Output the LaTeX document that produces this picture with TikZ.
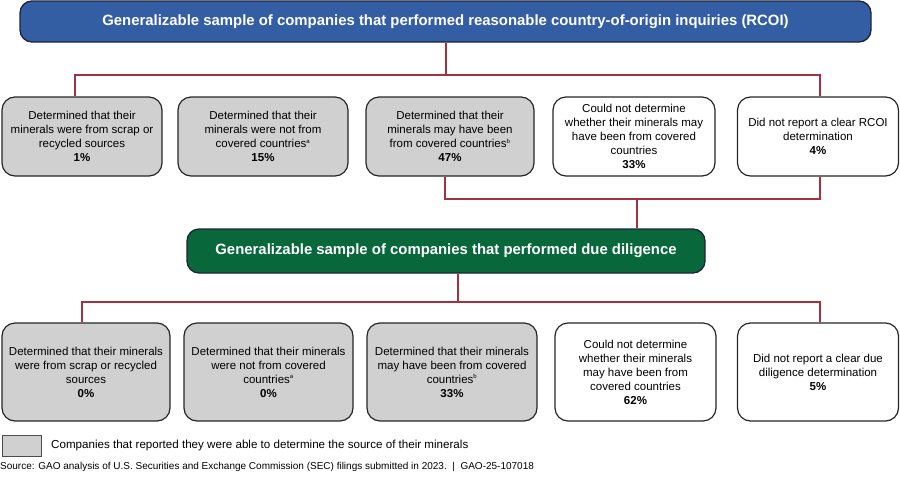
\documentclass[tikz,border=0pt]{standalone}
\usepackage{fontspec}
\setmainfont{Liberation Sans}
\definecolor{gaoblue}{RGB}{52,94,164}
\definecolor{gaogreen}{RGB}{8,104,60}
\definecolor{gaored}{RGB}{164,50,62}
\definecolor{boxgray}{RGB}{208,208,208}
\definecolor{navy}{RGB}{30,36,56}
\tikzset{
  banner/.style={draw=navy, line width=1.3pt, rounded corners=12pt, text=white,
    font=\fontsize{14.9}{17}\selectfont\bfseries, inner sep=0pt},
  resbox/.style={draw=black!85, line width=1.2pt, rounded corners=13pt, align=center,
    font=\fontsize{11.5}{14}\selectfont, inner sep=0pt, minimum height=79pt},
  resbox2/.style={resbox, minimum height=98pt},
  graybox/.style={fill=boxgray},
  link/.style={draw=gaored, line width=2.6pt},
}
\newcommand{\pct}[1]{\textbf{#1}}
\newcommand{\fnm}[1]{\textsuperscript{\fontsize{6}{6}\selectfont #1}}
\begin{document}
\begin{tikzpicture}[x=1pt,y=-1pt]
\useasboundingbox (0,0) rectangle (900,480);

% top banner
\node[banner, fill=gaoblue, minimum width=851pt, minimum height=41pt] (top) at (445.5,21.5)
  {Generalizable sample of companies that performed reasonable country-of-origin inquiries (RCOI)};

% row 1
\node[resbox, graybox, minimum width=160pt] (b1) at (82,136.5)
  {Determined that their\\minerals were from scrap or\\recycled sources\\\pct{1\%}};
\node[resbox, graybox, minimum width=170pt] (b2) at (263,136.5)
  {Determined that their\\minerals were not from\\covered countries\fnm{a}\\\pct{15\%}};
\node[resbox, graybox, minimum width=168pt] (b3) at (450,136.5)
  {Determined that their\\minerals may have been\\from covered countries\fnm{b}\\\pct{47\%}};
\node[resbox, fill=white, minimum width=162pt] (b4) at (634,136.5)
  {Could not determine\\whether their minerals may\\have been from covered\\countries\\\pct{33\%}};
\node[resbox, fill=white, minimum width=161pt] (b5) at (818,136.5)
  {Did not report a clear RCOI\\determination\\\pct{4\%}};

% green banner
\node[banner, fill=gaogreen, minimum width=518pt, minimum height=44pt] (mid) at (446,251)
  {Generalizable sample of companies that performed due diligence};

% row 2
\node[resbox2, graybox, minimum width=168pt] (c1) at (86,372)
  {Determined that their minerals\\were from scrap or recycled\\sources\\\pct{0\%}};
\node[resbox2, graybox, minimum width=169pt] (c2) at (268.5,372)
  {Determined that their minerals\\were not from covered\\countries\fnm{a}\\\pct{0\%}};
\node[resbox2, graybox, minimum width=170pt] (c3) at (452,372)
  {Determined that their minerals\\may have been from covered\\countries\fnm{b}\\\pct{33\%}};
\node[resbox2, fill=white, minimum width=161pt] (c4) at (635.5,372)
  {Could not determine\\whether their minerals\\may have been from\\covered countries\\\pct{62\%}};
\node[resbox2, fill=white, minimum width=161pt] (c5) at (818,372)
  {Did not report a clear due\\diligence determination\\\pct{5\%}};

% connectors
\coordinate (j1) at (446,75);
\coordinate (j2) at (637,199);
\coordinate (j3) at (458,302);
\draw[link] (top.south -| j1) -- (j1);
\draw[link] ([xshift=-7pt]b1.north) |- (j1) -| ([xshift=2pt]b5.north);
\draw[link] ([xshift=-5pt]b3.south) |- (j2) -| ([xshift=2pt]b5.south);
\draw[link] (j2) -- (mid.north -| j2);
\draw[link] (mid.south -| j3) -- (j3);
\draw[link] ([xshift=-4pt]c1.north) |- (j3) -| ([xshift=2pt]c5.north);

% legend
\node[draw=black!70, line width=0.8pt, fill=boxgray, minimum width=39pt, minimum height=21pt, inner sep=0pt] (leg) at (21.5,445.5) {};
\node[anchor=west, font=\fontsize{11.6}{13}\selectfont, inner sep=0pt] (legtext) at (51,445.5)
  {Companies that reported they were able to determine the source of their minerals};
\node[anchor=west, font=\fontsize{10}{11}\selectfont, inner sep=0pt] (src) at (0,467)
  {Source: GAO analysis of U.S. Securities and Exchange Commission (SEC) filings submitted in 2023.~~|~~GAO-25-107018};
\end{tikzpicture}
\end{document}
